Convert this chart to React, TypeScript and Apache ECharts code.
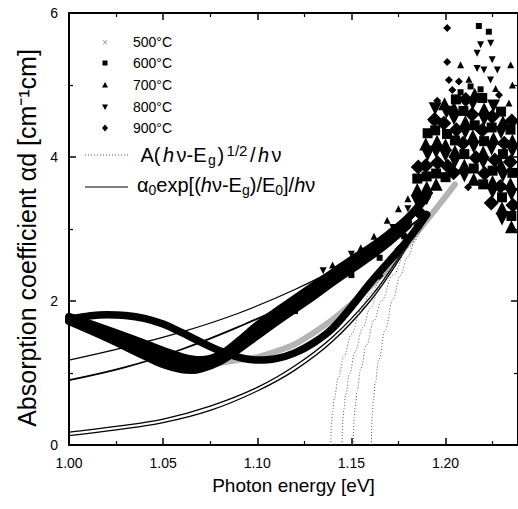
import React, { useEffect, useRef } from 'react';
import * as echarts from 'echarts';

const F = '"Liberation Sans", Arial, Helvetica, sans-serif';

// ---- axis ticks ----
const xTickValues = [1.0, 1.05, 1.1, 1.15, 1.2];
const yTickValues = [0, 2, 4, 6];

// ---- legend ----
const tempNames = ['500°C', '600°C', '700°C', '800°C', '900°C'];

// ---- measured bands (centre lines of the dense point bands) ----
const band500: number[][] = [
  [1.0, 1.72], [1.02, 1.49], [1.04, 1.24], [1.06, 1.07], [1.07, 1.09], [1.08, 1.14], [1.09, 1.18],
  [1.1, 1.22], [1.11, 1.3], [1.12, 1.4], [1.13, 1.56], [1.14, 1.74], [1.15, 1.96], [1.16, 2.2],
  [1.17, 2.48], [1.18, 2.8], [1.19, 3.12], [1.2, 3.45], [1.205, 3.62],
];
const band600: number[][] = [
  [1.0, 1.72], [1.02, 1.49], [1.04, 1.24], [1.05, 1.12], [1.06, 1.05], [1.065, 1.04], [1.07, 1.06],
  [1.08, 1.16], [1.09, 1.33], [1.1, 1.52], [1.11, 1.71], [1.12, 1.89], [1.13, 2.07], [1.14, 2.26],
  [1.15, 2.44], [1.16, 2.62], [1.17, 2.82], [1.18, 3.05],
];
const band700: number[][] = [
  [1.0, 1.74], [1.02, 1.54], [1.04, 1.33], [1.05, 1.22], [1.06, 1.14], [1.07, 1.12], [1.08, 1.2],
  [1.09, 1.38], [1.1, 1.58], [1.11, 1.77], [1.12, 1.95], [1.13, 2.13], [1.14, 2.31], [1.15, 2.49],
  [1.16, 2.66], [1.17, 2.86], [1.18, 3.1],
];
const band800: number[][] = [
  [1.0, 1.78], [1.02, 1.6], [1.04, 1.41], [1.05, 1.31], [1.06, 1.22], [1.07, 1.18], [1.08, 1.25],
  [1.09, 1.44], [1.1, 1.66], [1.11, 1.85], [1.12, 2.03], [1.13, 2.21], [1.14, 2.39], [1.15, 2.57],
  [1.16, 2.74], [1.17, 2.93], [1.18, 3.15], [1.19, 3.45],
];
const band900: number[][] = [
  [1.0, 1.75], [1.01, 1.79], [1.02, 1.81], [1.03, 1.8], [1.04, 1.76], [1.05, 1.68], [1.06, 1.56],
  [1.07, 1.43], [1.08, 1.31], [1.09, 1.22], [1.1, 1.18], [1.11, 1.2], [1.12, 1.28], [1.13, 1.42],
  [1.14, 1.62], [1.15, 1.92], [1.16, 2.25], [1.17, 2.55], [1.18, 2.85], [1.19, 3.2],
];

// ---- dense scattered points (noisy region) ----
const cloud600: number[][] = [
  [1.185, 3.7], [1.19, 3.73], [1.1905, 4.33], [1.195, 3.77], [1.1945, 4.37], [1.2, 3.72], [1.2008, 4.32],
  [1.205, 4.23], [1.2055, 4.8], [1.21, 4.04], [1.2095, 4.64], [1.215, 3.84], [1.2155, 4.44], [1.22, 3.62],
  [1.2205, 4.22], [1.2195, 4.82], [1.225, 3.81], [1.2245, 4.41], [1.23, 3.44], [1.2305, 4.04], [1.2295, 4.63],
  [1.235, 3.18], [1.2355, 3.78], [1.2345, 4.38], [1.24, 3.0], [1.2395, 3.6], [1.24, 4.2],
];
const cloud700: number[][] = [
  [1.185, 3.55], [1.19, 3.58], [1.1895, 4.18], [1.195, 3.62], [1.1955, 4.22], [1.2, 4.17], [1.1995, 4.74],
  [1.205, 4.08], [1.2045, 4.68], [1.21, 3.89], [1.2105, 4.49], [1.215, 3.69], [1.2145, 4.29], [1.2155, 4.87],
  [1.22, 4.07], [1.2205, 4.67], [1.225, 3.66], [1.2255, 4.26], [1.23, 3.29], [1.2295, 3.89], [1.2305, 4.49],
  [1.235, 3.03], [1.2345, 3.63], [1.2355, 4.23], [1.24, 3.45], [1.2395, 4.05],
];
const cloud800: number[][] = [
  [1.185, 3.38], [1.19, 3.42], [1.1905, 4.03], [1.195, 4.07], [1.1945, 4.67], [1.2, 4.02], [1.2005, 4.62],
  [1.205, 3.93], [1.2045, 4.53], [1.21, 3.74], [1.2105, 4.34], [1.215, 4.14], [1.2145, 4.74], [1.22, 3.92],
  [1.2205, 4.52], [1.225, 3.51], [1.2245, 4.11], [1.2255, 4.71], [1.23, 3.14], [1.2305, 3.74], [1.2295, 4.34],
  [1.235, 3.48], [1.2355, 4.08], [1.24, 3.3], [1.2395, 3.9],
];
const cloud900: number[][] = [
  [1.1865, 3.22], [1.1855, 3.86], [1.1895, 3.88], [1.1958, 3.92], [1.1942, 4.52], [1.2012, 3.87], [1.1991, 4.47],
  [1.2043, 3.78], [1.2058, 4.38], [1.2093, 4.19], [1.2107, 4.8], [1.2162, 3.99], [1.2141, 4.59], [1.2208, 3.77],
  [1.2195, 4.37], [1.2243, 3.36], [1.2262, 3.96], [1.2248, 4.56], [1.2291, 3.59], [1.2312, 4.19], [1.2358, 3.33],
  [1.2344, 3.93], [1.2352, 4.5], [1.2396, 3.15], [1.2388, 3.75], [1.2392, 4.35],
];
// ---- sparse points (outliers and band edges) ----
const sparse600: number[][] = [
  [1.2177, 5.82], [1.223, 5.74], [1.2133, 4.98], [1.2186, 4.94], [1.208, 4.9],
  [1.12, 1.86], [1.15, 2.36], [1.165, 2.6], [1.178, 2.9],
];
const sparse700: number[][] = [
  [1.208, 5.28], [1.2346, 5.28], [1.2355, 5.0], [1.2337, 4.75], [1.2124, 5.08], [1.2266, 4.95],
  [1.14, 2.5], [1.155, 2.74], [1.162, 2.9], [1.169, 3.12], [1.175, 3.28], [1.18, 3.42],
];
const sparse800: number[][] = [
  [1.224, 5.58], [1.2186, 5.56], [1.2168, 5.44], [1.2248, 5.35], [1.2168, 5.23], [1.2275, 5.21], [1.2239, 5.07], [1.2204, 5.21],
  [1.135, 2.42], [1.15, 2.65], [1.172, 3.02], [1.18, 3.28],
];
const sparse900: number[][] = [
  [1.2009, 5.79], [1.2009, 5.32], [1.2018, 5.07], [1.2071, 5.05], [1.1956, 4.78], [1.1929, 4.5], [1.2036, 4.93], [1.2284, 4.86],
  [1.212, 3.58], [1.165, 2.35], [1.175, 2.72], [1.185, 3.05],
];

// ---- fitted curves: exponential (solid) ----
const expFit1: number[][] = [[1.0, 1.18], [1.03, 1.36], [1.06, 1.57], [1.09, 1.83], [1.12, 2.16], [1.15, 2.55], [1.17, 2.85], [1.19, 3.2]];
const expFit2: number[][] = [[1.0, 0.9], [1.03, 1.08], [1.06, 1.33], [1.09, 1.64], [1.12, 2.0], [1.15, 2.45], [1.17, 2.82], [1.19, 3.22]];
const expFit3: number[][] = [[1.0, 0.18], [1.025, 0.26], [1.05, 0.36], [1.075, 0.54], [1.1, 0.8], [1.12, 1.1], [1.14, 1.5], [1.16, 2.05], [1.175, 2.6], [1.19, 3.25]];
const expFit4: number[][] = [[1.0, 0.13], [1.025, 0.21], [1.05, 0.31], [1.075, 0.48], [1.1, 0.75], [1.12, 1.04], [1.14, 1.44], [1.16, 2.0], [1.175, 2.56], [1.19, 3.22]];

// ---- fitted curves: square-root (dotted) ----
const sqrtFit1: number[][] = [[1.139, 0], [1.1395, 0.33], [1.14, 0.47], [1.141, 0.66], [1.143, 0.93], [1.146, 1.23], [1.15, 1.54], [1.155, 1.87], [1.16, 2.11], [1.17, 2.54], [1.18, 2.9], [1.19, 3.2]];
const sqrtFit2: number[][] = [[1.145, 0], [1.1455, 0.35], [1.146, 0.5], [1.147, 0.7], [1.149, 0.99], [1.152, 1.3], [1.156, 1.63], [1.16, 1.9], [1.165, 2.19], [1.17, 2.43], [1.18, 2.85], [1.19, 3.2]];
const sqrtFit3: number[][] = [[1.151, 0], [1.1515, 0.38], [1.152, 0.53], [1.153, 0.75], [1.155, 1.06], [1.158, 1.39], [1.162, 1.73], [1.166, 2.0], [1.172, 2.36], [1.18, 2.74], [1.19, 3.18]];
const sqrtFit4: number[][] = [[1.1606, 0], [1.1611, 0.42], [1.1616, 0.6], [1.1626, 0.85], [1.1646, 1.19], [1.168, 1.6], [1.172, 2.02], [1.176, 2.36], [1.18, 2.62], [1.185, 2.93], [1.19, 3.2]];

const DOWN_TRI = 'path://M0,0L10,0L5,9Z';

function lineS(data: number[][], width: number, color: string, z = 2) {
  return {
    type: 'line', data, showSymbol: false, symbol: 'none', smooth: 0.4,
    lineStyle: { width, color, type: 'solid', cap: 'round', join: 'round' }, silent: true, z, clip: true,
  };
}
function dotS(data: number[][]) {
  return {
    type: 'line', data, showSymbol: false, symbol: 'none', smooth: 0.4, smoothMonotone: 'x',
    lineStyle: { width: 1, color: '#555', type: [1, 2], cap: 'butt' }, silent: true, z: 2, clip: true,
  };
}
function scat(data: number[][], symbol: string, size: number, z = 5) {
  return { type: 'scatter', data, symbol, symbolSize: size, itemStyle: { color: '#000', opacity: 1 }, silent: true, z, clip: true };
}

const axisLine = { show: true, onZero: false, lineStyle: { color: '#000', width: 2 } };
const axisTick = { show: true, inside: true, length: 7, lineStyle: { color: '#000', width: 1.5 } };
const minorTick = { show: true, splitNumber: 2, length: 4, lineStyle: { color: '#000', width: 1.2 } };

const rowY = [42, 63, 85, 107, 128];
const rich1 = {
  n: { fontSize: 20, fontFamily: F, lineHeight: 24, color: '#000', padding: [0, 1.5, 0, 1.5] },
  i: { fontSize: 20, fontFamily: F, fontStyle: 'italic', lineHeight: 24, color: '#000', padding: [0, 1, 0, 1] },
  b: { fontSize: 14, fontFamily: F, verticalAlign: 'bottom', lineHeight: 14, color: '#000' },
  p: { fontSize: 15, fontFamily: F, verticalAlign: 'top', lineHeight: 15, color: '#000', padding: [0, 1, 0, 1] },
};
const rich2 = {
  n: { fontSize: 20, fontFamily: F, lineHeight: 24, color: '#000' },
  i: { fontSize: 20, fontFamily: F, fontStyle: 'italic', lineHeight: 24, color: '#000' },
  b: { fontSize: 14, fontFamily: F, verticalAlign: 'bottom', lineHeight: 14, color: '#000' },
};

export default function App() {
  const ref = useRef<HTMLDivElement>(null);
  useEffect(() => {
    const chart = echarts.init(ref.current!, null, { renderer: 'svg' });
    const option: any = {
      animation: false,
      backgroundColor: '#fff',
      grid: { left: 69, top: 13, width: 449, height: 432 },
      xAxis: [
        {
          type: 'value', min: 1.0, max: 1.2385, interval: 0.05, position: 'bottom',
          axisLine, axisTick, minorTick, splitLine: { show: false },
          axisLabel: {
            showMaxLabel: false, margin: 11, fontSize: 14, fontFamily: F, color: '#000',
            formatter: (v: number) => (xTickValues.some((t) => Math.abs(t - v) < 1e-6) ? v.toFixed(2) : ''),
          },
          name: 'Photon energy [eV]', nameLocation: 'middle', nameGap: 31,
          nameTextStyle: { fontSize: 19, fontFamily: F, color: '#000' },
        },
        {
          type: 'value', min: 1.0, max: 1.2385, interval: 0.05, position: 'top',
          axisLine, axisTick, minorTick, splitLine: { show: false }, axisLabel: { show: false },
        },
      ],
      yAxis: [
        {
          type: 'value', min: 0, max: 6, interval: 2, position: 'left',
          axisLine, axisTick, minorTick, splitLine: { show: false },
          axisLabel: {
            margin: 11, fontSize: 14, fontFamily: F, color: '#000',
            formatter: (v: number) => (yTickValues.indexOf(v) >= 0 ? String(v) : ''),
          },
        },
        {
          type: 'value', min: 0, max: 6, interval: 2, position: 'right',
          axisLine, axisTick, minorTick, splitLine: { show: false }, axisLabel: { show: false },
        },
      ],
      series: [
        lineS(band500, 6, '#b4b4b4', 1),
        lineS(expFit1, 1.3, '#000'),
        lineS(expFit2, 1.8, '#000'),
        lineS(expFit3, 1.3, '#000'),
        lineS(expFit4, 1.3, '#000'),
        dotS(sqrtFit1),
        dotS(sqrtFit2),
        dotS(sqrtFit3),
        dotS(sqrtFit4),
        lineS(band900, 7.5, '#000', 3),
        lineS(band600, 8, '#000', 3),
        lineS(band700, 8, '#000', 3),
        lineS(band800, 8, '#000', 3),
        scat(cloud600, 'rect', 10),
        scat(cloud700, 'triangle', 13),
        scat(cloud800, DOWN_TRI, 13),
        scat(cloud900, 'diamond', 15),
        scat(sparse600, 'rect', 6),
        scat(sparse700, 'triangle', 7),
        scat(sparse800, DOWN_TRI, 7),
        scat(sparse900, 'diamond', 8),
      ],
      graphic: [
        {
          type: 'text', x: 27, y: 238, rotation: Math.PI / 2, silent: true,
          style: {
            text: 'Absorption coefficient αd [cm⁻¹cm]', font: `25px ${F}`, fill: '#000',
            textAlign: 'center', textVerticalAlign: 'middle',
          },
        },
        // legend symbols
        { type: 'text', x: 105, y: rowY[0], silent: true, style: { text: '×', font: `10px ${F}`, fill: '#999', textAlign: 'center', textVerticalAlign: 'middle' } },
        { type: 'rect', silent: true, shape: { x: 102.5, y: rowY[1] - 2.5, width: 5, height: 5 }, style: { fill: '#000' } },
        { type: 'polygon', silent: true, shape: { points: [[105, rowY[2] - 3], [102, rowY[2] + 2.5], [108, rowY[2] + 2.5]] }, style: { fill: '#000' } },
        { type: 'polygon', silent: true, shape: { points: [[102, rowY[3] - 2.5], [108, rowY[3] - 2.5], [105, rowY[3] + 3]] }, style: { fill: '#000' } },
        { type: 'polygon', silent: true, shape: { points: [[105, rowY[4] - 3.5], [108, rowY[4]], [105, rowY[4] + 3.5], [102, rowY[4]]] }, style: { fill: '#000' } },
        ...tempNames.map((t, k) => ({
          type: 'text', x: 133, y: rowY[k], silent: true,
          style: { text: t, font: `14px ${F}`, fill: '#000', textAlign: 'left', textVerticalAlign: 'middle' },
        })),
        { type: 'line', silent: true, shape: { x1: 85, y1: 155, x2: 128, y2: 155 }, style: { stroke: '#555', lineWidth: 1, lineDash: [1, 2] } },
        {
          type: 'text', x: 139, y: 155, silent: true,
          style: {
            text: '{n|A(}{i|h}{n|ν-E}{b|g}{n|)}{p|1/2}{n|/}{i|h}{n|ν}', rich: rich1,
            textAlign: 'left', textVerticalAlign: 'middle', fill: '#000',
          },
        },
        { type: 'line', silent: true, shape: { x1: 85, y1: 187, x2: 128, y2: 187 }, style: { stroke: '#000', lineWidth: 1.2 } },
        {
          type: 'text', x: 137, y: 185, silent: true,
          style: {
            text: '{n|α}{b|0}{n|exp[(}{i|h}{n|ν-E}{b|g}{n|)/E}{b|0}{n|]/}{i|h}{n|ν}', rich: rich2,
            textAlign: 'left', textVerticalAlign: 'middle', fill: '#000',
          },
        },
      ],
    };
    chart.setOption(option);
    return () => chart.dispose();
  }, []);
  return (
    <div
      ref={ref}
      style={{ position: 'fixed', left: 0, top: 0, width: 518, height: 509, background: '#fff' }}
    />
  );
}
